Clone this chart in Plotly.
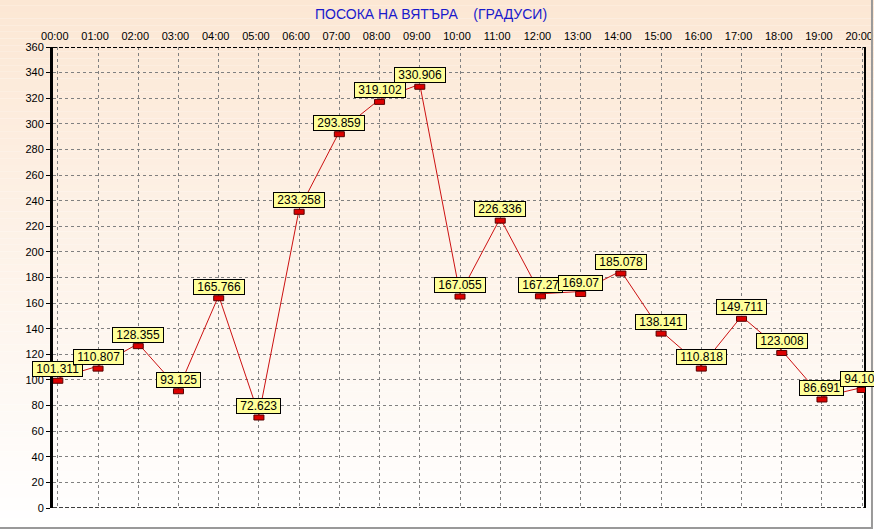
import plotly.graph_objects as go

# данни: посока на вятъра по часове
hours = ["00:00", "01:00", "02:00", "03:00", "04:00", "05:00", "06:00",
         "07:00", "08:00", "09:00", "10:00", "11:00", "12:00", "13:00",
         "14:00", "15:00", "16:00", "17:00", "18:00", "19:00", "20:00"]
direction = [101.311, 110.807, 128.355, 93.125, 165.766, 72.623, 233.258,
             293.859, 319.102, 330.906, 167.055, 226.336, 167.27, 169.07,
             185.078, 138.141, 110.818, 149.711, 123.008, 86.691, 94.102]
y_ticks = list(range(0, 361, 20))

xs = list(range(len(hours)))

fig = go.Figure()

fig.add_trace(go.Scatter(
    x=xs, y=direction, mode="lines",
    line=dict(color="#cc1111", width=1),
    hoverinfo="skip", showlegend=False,
))

shapes = []

# фон - преливка от прасковено към бяло
n_bands = 80
top_c = (252, 231, 212)
bot_c = (255, 255, 255)
for i in range(n_bands):
    t = i / (n_bands - 1)
    c = tuple(int(round(top_c[k] + (bot_c[k] - top_c[k]) * t)) for k in range(3))
    y1 = 1.105 - (1.105 + 0.05) * i / n_bands
    y0 = 1.105 - (1.105 + 0.05) * (i + 1) / n_bands
    shapes.append(dict(type="rect", xref="paper", yref="paper",
                       x0=-0.08, x1=1.02, y0=y0, y1=y1,
                       fillcolor="rgb(%d,%d,%d)" % c, line=dict(width=0),
                       layer="below"))

# рамка
shapes.append(dict(type="line", xref="paper", yref="y", x0=0, x1=1, y0=360, y1=360,
                   line=dict(color="black", width=2, dash="4px,2px")))
shapes.append(dict(type="line", xref="paper", yref="y", x0=0, x1=1, y0=0, y1=0,
                   line=dict(color="black", width=1.5, dash="4px,2px")))
shapes.append(dict(type="line", xref="paper", yref="paper", x0=1, x1=1, y0=0, y1=1,
                   line=dict(color="black", width=2)))
shapes.append(dict(type="line", xref="paper", yref="paper", x0=1.0086, x1=1.0086, y0=-0.05, y1=1.105,
                   line=dict(color="#999999", width=2)))
shapes.append(dict(type="line", xref="paper", yref="paper", x0=-0.08, x1=1.0086, y0=-0.0434, y1=-0.0434,
                   line=dict(color="#999999", width=2)))

# маркери - малки червени правоъгълници
for x, v in zip(xs, direction):
    shapes.append(dict(type="rect", xref="x", yref="y",
                       xsizemode="pixel", ysizemode="pixel",
                       xanchor=x, yanchor=v, x0=-5, x1=5, y0=-5, y1=0,
                       fillcolor="#dd0000", line=dict(color="#550000", width=1)))

annotations = []
for x, v in zip(xs, direction):
    annotations.append(dict(x=x, y=v, xref="x", yref="y", text=f"\u00a0{v:g}\u00a0",
                            showarrow=False, yanchor="bottom", yshift=1,
                            bgcolor="#ffff99", bordercolor="black", borderwidth=1,
                            borderpad=0,
                            font=dict(family="Liberation Sans, Arial", size=12, color="black")))

annotations.append(dict(x=0.465, y=1.0, xref="paper", yref="paper",
                        yanchor="bottom", yshift=23, showarrow=False,
                        text="ПОСОКА НА ВЯТЪРА\u00a0\u00a0\u00a0\u00a0(ГРАДУСИ)",
                        font=dict(family="Liberation Sans, Arial", size=14, color="#1a1acc")))

fig.update_layout(
    width=874, height=529,
    margin=dict(l=53, r=9, t=47, b=21, autoexpand=False),
    paper_bgcolor="white",
    plot_bgcolor="rgba(0,0,0,0)",
    font=dict(family="Liberation Sans, Arial", size=11, color="black"),
    shapes=shapes,
    annotations=annotations,
    showlegend=False,
)

fig.update_xaxes(
    side="top", range=[-0.12, 20.07], automargin=False,
    tickvals=xs, ticktext=hours, ticklabeloverflow="allow",
    ticklabelstandoff=4, ticklabelshift=-3,
    showgrid=True, gridcolor="#808080", griddash="3px,3px", gridwidth=1,
    zeroline=False, showline=False, ticks="", fixedrange=True,
)
fig.update_yaxes(
    range=[0, 360], tickvals=y_ticks, automargin=False,
    showgrid=True, gridcolor="#808080", griddash="3px,3px", gridwidth=1,
    zeroline=False, showline=True, linecolor="black", linewidth=3,
    ticks="outside", ticklen=4, tickcolor="black", fixedrange=True,
)

fig.write_html("out.html", config={"displayModeBar": False},
               post_script="document.body.style.margin='0';document.body.style.overflow='hidden';")
